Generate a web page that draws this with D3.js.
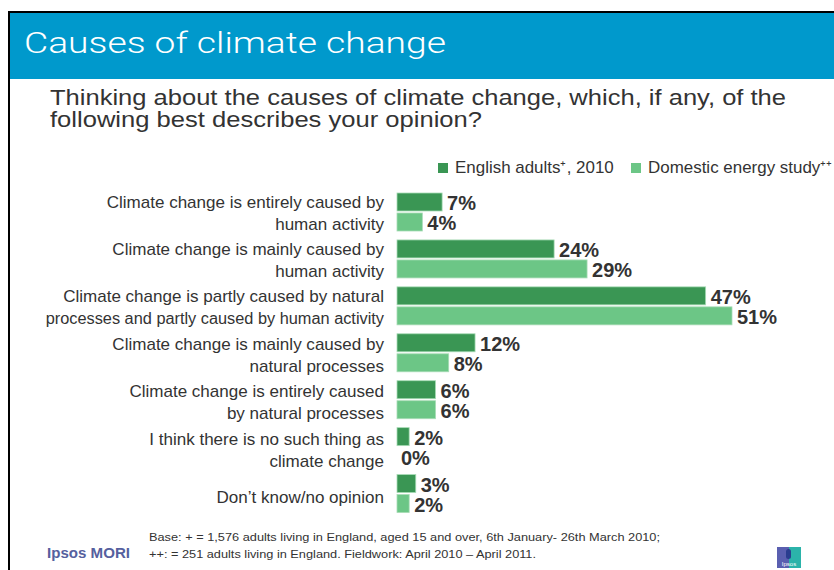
<!DOCTYPE html>
<html><head><meta charset="utf-8">
<script src="https://cdn.jsdelivr.net/npm/d3@7"></script>
<style>
html,body{margin:0;padding:0;background:#fff;}
svg{display:block;font-family:"Liberation Sans",Arial,sans-serif;}
</style></head>
<body><svg id="c" width="834" height="570"></svg>
<script>
const categories = [
  ["Climate change is entirely caused by","human activity"],
  ["Climate change is mainly caused by","human activity"],
  ["Climate change is partly caused by natural","processes and partly caused  by human activity"],
  ["Climate change is mainly caused by","natural processes"],
  ["Climate change is entirely caused","by natural processes"],
  ["I think there is no such thing as","climate change"],
  ["Don\u2019t know/no opinion"]
];
const seriesNames = ["English adults\u207A, 2010", "Domestic energy study\u207A\u207A"];
const englishAdults2010 = [7, 24, 47, 12, 6, 2, 3];
const domesticEnergyStudy = [4, 29, 51, 8, 6, 0, 2];
const colors = ["#3a9654", "#6cc686"];

const svg = d3.select("#c");
// frame
svg.append("rect").attr("x",10).attr("y",13).attr("width",824).attr("height",66).attr("fill","#0099cc");
svg.append("line").attr("x1",9).attr("x2",834).attr("y1",12).attr("y2",12).attr("stroke","#000").attr("stroke-width",2);
svg.append("line").attr("x1",9).attr("x2",9).attr("y1",11).attr("y2",570).attr("stroke","#000").attr("stroke-width",2);

svg.append("text").attr("x",24).attr("y",53).attr("fill","#fff")
  .style("font-family","Roboto,'Liberation Sans',sans-serif").attr("font-weight",300)
  .attr("font-size",29).attr("textLength",422).attr("lengthAdjust","spacingAndGlyphs")
  .text("Causes of climate change");

svg.append("text").attr("fill","#333").attr("font-size",22).attr("x",50).attr("y",105)
  .attr("textLength",736).attr("lengthAdjust","spacingAndGlyphs")
  .text("Thinking about the causes of climate change, which, if any, of the");
svg.append("text").attr("fill","#333").attr("font-size",22).attr("x",50).attr("y",127)
  .attr("textLength",432).attr("lengthAdjust","spacingAndGlyphs")
  .text("following best describes your opinion?");

// legend
const legX = [438, 631];
seriesNames.forEach((s,i)=>{
  svg.append("rect").attr("x",legX[i]).attr("y",163).attr("width",10).attr("height",10).attr("fill",colors[i]);
  svg.append("text").attr("transform",`translate(${legX[i]+17},173) scale(1.06,1)`)
    .attr("font-size",16).attr("fill","#333").text(s);
});

const data = categories.map((c,i)=>({cat:i, lines:c, vals:[englishAdults2010[i], domesticEnergyStudy[i]]}));

const x = d3.scaleLinear().domain([0,51]).range([396,732]);
const y0 = d3.scaleBand().domain(d3.range(categories.length)).range([188.5,517]).padding(0);
const y1 = d3.scaleBand().domain([0,1]).range([4.5,42.5]).paddingInner(0.1);
const yLab = d3.scalePoint().domain(d3.range(categories.length)).range([213.5,498]);

const g = svg.selectAll("g.grp").data(data).join("g").attr("class","grp")
  .attr("transform",d=>`translate(0,${y0(d.cat)})`);

g.selectAll("rect").data(d=>d.vals.map((v,k)=>({v,k}))).join("rect")
  .attr("x",x(0)+1).attr("y",d=>y1(d.k)).attr("height",y1.bandwidth())
  .attr("width",d=>Math.max(0,x(d.v)-x(0)-1)).attr("fill",d=>colors[d.k])
  .attr("stroke",d=>d.v>0?"#a8dcb6":"none").attr("stroke-width",0.8);

g.selectAll("text.val").data(d=>d.vals.map((v,k)=>({v,k}))).join("text").attr("class","val")
  .attr("x",d=>x(d.v)+5).attr("y",d=>y1(d.k)+17)
  .attr("font-size",20).attr("font-weight","bold").attr("fill","#333")
  .text(d=>d.v+"%");

// category labels
data.forEach(d=>{
  const n = d.lines.length;
  const cy = yLab(d.cat);
  d.lines.forEach((l,j)=>{
    const sx = l.length > 42 ? 1.02 : 1.065;
    svg.append("text").attr("text-anchor","end").attr("font-size",16).attr("fill","#333")
      .attr("transform",`translate(384,${cy + (j-(n-1)/2)*22 + 5}) scale(${sx},1)`).text(l);
  });
});

// footer
svg.append("text").attr("x",149).attr("y",541).attr("font-size",11).attr("fill","#333")
  .attr("textLength",511).attr("lengthAdjust","spacingAndGlyphs")
  .text("Base: + = 1,576 adults living in England, aged 15 and over, 6th January- 26th March 2010;");
svg.append("text").attr("x",149).attr("y",558).attr("font-size",11).attr("fill","#333")
  .attr("textLength",387).attr("lengthAdjust","spacingAndGlyphs")
  .text("++: = 251 adults living in England. Fieldwork: April 2010 \u2013 April 2011.");
svg.append("text").attr("x",47).attr("y",558).attr("font-size",15).attr("font-weight","bold")
  .attr("fill","#55609e").attr("textLength",83).attr("lengthAdjust","spacingAndGlyphs").text("Ipsos MORI");
// logo
svg.append("rect").attr("x",777).attr("y",547).attr("width",12).attr("height",21).attr("fill","#5a5fb0");
svg.append("rect").attr("x",789).attr("y",547).attr("width",12).attr("height",21).attr("fill","#2bb3aa");
svg.append("rect").attr("x",786).attr("y",549).attr("width",5).attr("height",10).attr("rx",2.5).attr("fill","#2a3d8f");
svg.append("text").attr("x",789).attr("y",566).attr("text-anchor","middle").attr("font-size",6).attr("fill","#fff").text("Ipsos");
</script></body></html>
